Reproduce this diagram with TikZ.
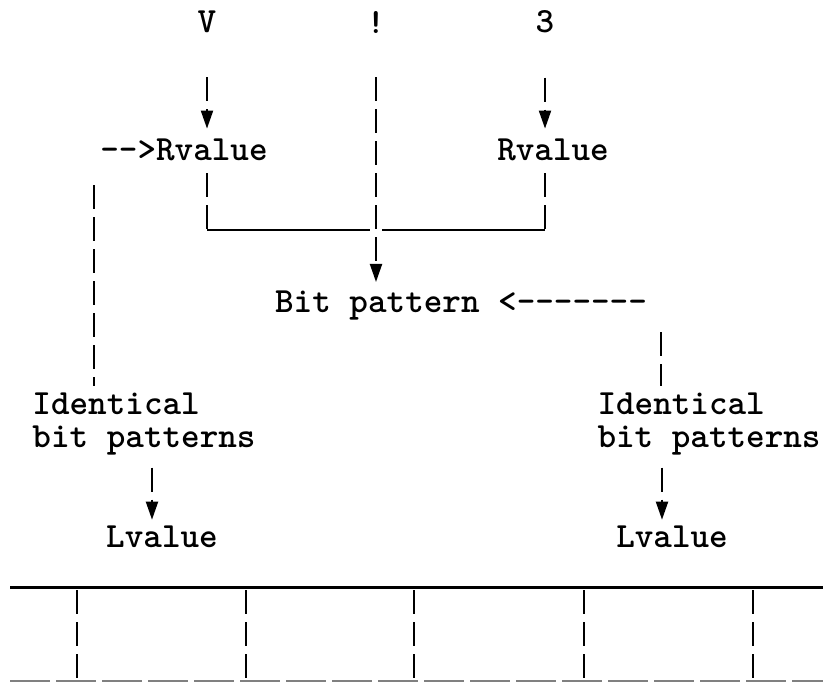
\documentclass[tikz,border=0pt]{standalone}
\tikzstyle{word}=[font=\ttfamily\bfseries\fontsize{17.7}{16.5}\selectfont,inner sep=0pt]
\tikzstyle{bar}=[line width=1pt,dash pattern=on 12pt off 4pt]
\tikzstyle{down}=[bar,-{Triangle[width=6pt,length=9pt]}]
\usetikzlibrary{arrows.meta,positioning}

\begin{document}
\begin{tikzpicture}[x=0.5pt,y=-0.5pt]
			\useasboundingbox (0,0) rectangle (823,682);

			% operands
			\node[word] (v) at (207,22) {V};
			\node[word] (bang) at (376,22) {!};
			\node[word] (three) at (545,22) {3};

			\node[word] (rvl) at (184,150) {-{}->Rvalue};
			\node[word] (rvr) at (553,150) {Rvalue};
			\node[word] (bit) at (461,305) {Bit pattern <-{}-{}-{}-{}-{}-{}-};

			\node[word,align=left] (idl) at (144,424) {Identical\\bit patterns};
			\node[word,align=left] (idr) at (709,424) {Identical\\bit patterns};
			\node[word] (lvl) at (162,537) {Lvalue};
			\node[word] (lvr) at (672,537) {Lvalue};

			\coordinate (tie) at (376,230);

			% arrows
			\draw[down,shorten <=22pt,shorten >=5pt] (v.south) -- (v.south |- rvl.north);
			\draw[down,shorten <=22pt,shorten >=5pt] (three.south) -- (three.south |- rvr.north);

			\draw[bar,shorten <=6pt] (v |- rvl.south) -- (v |- tie);
			\draw[bar,shorten <=6pt] (three |- rvr.south) -- (three |- tie);
			\draw[line width=1pt] (v |- tie) -- (three |- tie);
			\draw[down,shorten <=22pt,shorten >=4pt,preaction={draw,white,solid,line width=6pt,-}]
				(bang.south) -- (bang.south |- bit.north);

			\draw[bar,shorten <=12pt,shorten >=3pt] ([xshift=-3pt]rvl.south west) -- ([xshift=-3pt]rvl.west |- idl.north);
			\draw[bar,shorten <=6pt,shorten >=3pt] ([xshift=7pt]bit.south east) -- ([xshift=7pt]bit.east |- idr.north);

			\draw[down,shorten <=6pt,shorten >=3pt] ([xshift=-5pt]idl.south -| lvl.north) -- ([xshift=-5pt]lvl.north);
			\draw[down,shorten <=6pt,shorten >=3pt] ([xshift=-5pt]idr.south -| lvr.north) -- ([xshift=-5pt]lvr.north);

			% memory cells
			\draw[line width=1.5pt] (10,587) -- (823,587);
			\foreach \x in {77,246,414,584,753}
				\draw[bar] (\x,590) -- (\x,682);
			\draw[line width=0.6pt,gray,dash pattern=on 20pt off 3pt] (10,681) -- (823,681);
		\end{tikzpicture}
\end{document}
